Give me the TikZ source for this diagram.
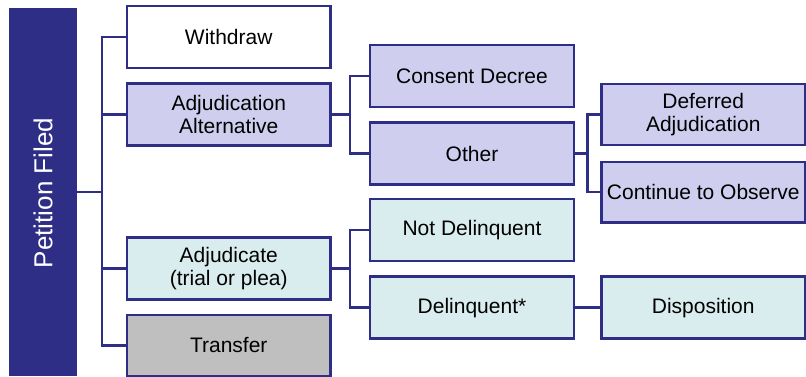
\documentclass[tikz,border=0pt]{standalone}
\usepackage{fontspec}
\setmainfont{Liberation Sans}
\definecolor{navy}{RGB}{46,46,135}
\definecolor{lav}{RGB}{207,206,238}
\definecolor{aqua}{RGB}{218,237,238}
\definecolor{greybox}{RGB}{191,191,191}
\tikzset{
  box/.style={draw=navy, line width=2.3pt, rectangle, inner sep=0pt, align=center,
    font=\fontsize{21}{22.5}\selectfont, text=black},
  wide/.style={box, minimum width=203.5pt, minimum height=62pt},
  link/.style={draw=navy, line width=2.3pt}
}
\begin{document}
\begin{tikzpicture}[x=1pt, y=-1pt]
\useasboundingbox (0,0) rectangle (806,377);

% root
\node[draw=navy, fill=navy, line width=1pt, minimum width=67pt, minimum height=366pt, inner sep=0pt]
  (pet) at (43,192) {};
\node[rotate=90, text=white, font=\fontsize{26}{28}\selectfont] (petlbl) at (43,193) {Petition Filed};

% first level
\node[wide, fill=white]   (wd)   at (228.75,37.25) {Withdraw};
\node[wide, fill=lav]     (alt)  at (228.75,114.5) {Adjudication\\Alternative};
\node[wide, fill=aqua]    (adj)  at (228.75,268.5) {Adjudicate\\(trial or plea)};
\node[wide, fill=greybox, minimum height=61pt] (tr) at (228.75,345.5) {Transfer};

% second level
\node[wide, fill=lav]  (cd)  at (472,76)     {Consent Decree};
\node[wide, fill=lav]  (oth) at (472,153.5)  {Other};
\node[wide, fill=aqua] (nd)  at (472,230.25) {Not Delinquent};
\node[wide, fill=aqua] (del) at (472,307.6)  {Delinquent*};

% third level
\node[wide, fill=lav, minimum height=61pt]  (da)  at (703.25,114.5)  {Deferred\\Adjudication};
\node[wide, fill=lav, minimum height=60.5pt](co)  at (703.25,192.25) {Continue to Observe};
\node[wide, fill=aqua]                      (dis) at (703.25,307.6)  {Disposition};

% branch points
\coordinate (b0) at (102,192);
\coordinate (b1) at (350,114.5);
\coordinate (b2) at (350,268.5);
\coordinate (b3) at (587.5,153.5);

% connectors
\draw[link] (pet.east |- b0) -- (b0);
\draw[link] (b0) |- (wd.west);
\draw[link] (b0) |- (alt.west);
\draw[link] (b0) |- (adj.west);
\draw[link] (b0) |- (tr.west);

\draw[link] (alt.east) -- (b1);
\draw[link] (b1) |- (cd.west);
\draw[link] (b1) |- (oth.west);

\draw[link] (adj.east) -- (b2);
\draw[link] (b2) |- (nd.west);
\draw[link] (b2) |- (del.west);

\draw[link] (oth.east) -- (b3);
\draw[link] (b3) |- (da.west);
\draw[link] (b3) |- (co.west);

\draw[link] (del.east) -- (dis.west);
\end{tikzpicture}
\end{document}
